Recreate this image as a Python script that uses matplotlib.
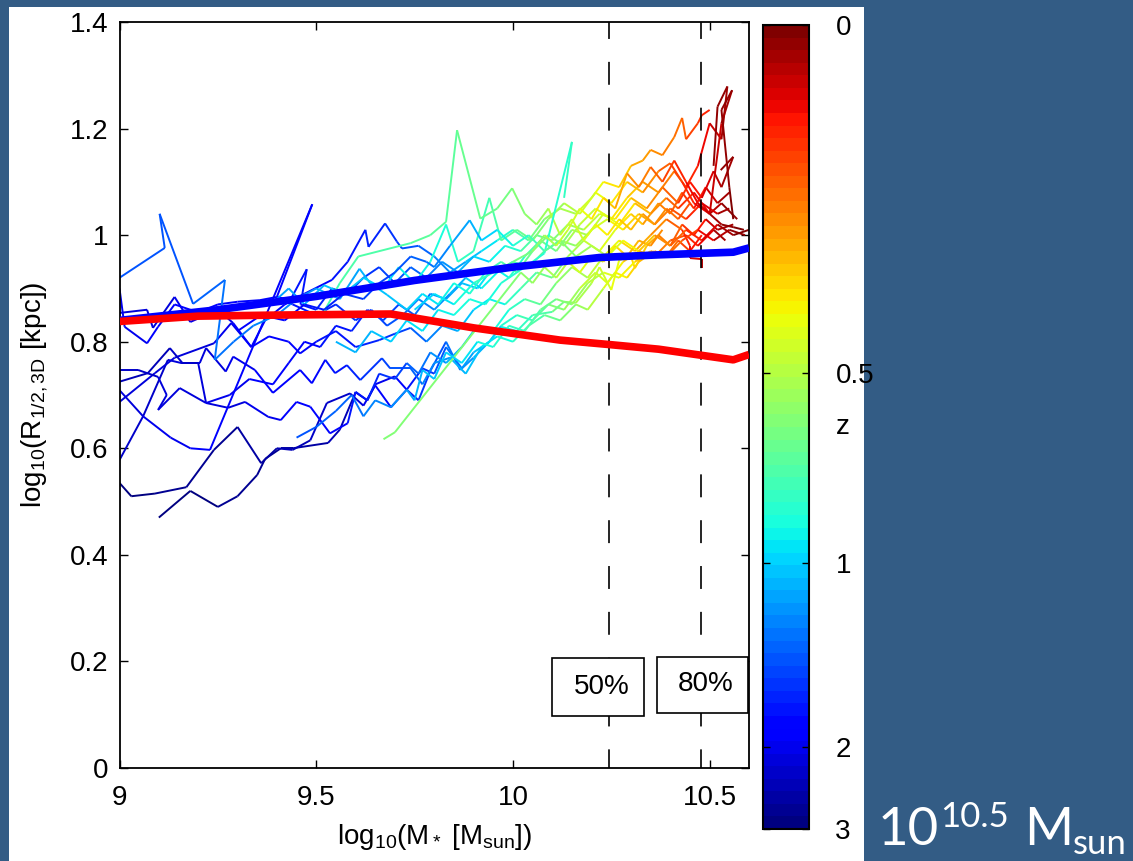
import numpy as np
import matplotlib
matplotlib.use('Agg')
import matplotlib.pyplot as plt
from matplotlib.collections import LineCollection
from matplotlib.colors import Normalize
from matplotlib.cm import ScalarMappable
from matplotlib.patches import Rectangle

# galaxy tracks: (log10 M*, log10 R_1/2, redshift)
track_a = [(9.10, 0.47, 3.0), (9.18, 0.52, 2.9), (9.25, 0.49, 2.8), (9.30, 0.51, 2.75), (9.35, 0.55, 2.7),
           (9.37, 0.58, 2.65), (9.41, 0.60, 2.6), (9.44, 0.60, 2.55), (9.53, 0.61, 2.45), (9.56, 0.635, 2.4),
           (9.60, 0.705, 2.3), (9.63, 0.69, 2.2), (9.65, 0.72, 2.1), (9.70, 0.735, 1.9), (9.73, 0.71, 1.75),
           (9.77, 0.75, 1.6), (9.80, 0.74, 1.5), (9.83, 0.79, 1.35), (9.87, 0.75, 1.2), (9.90, 0.78, 1.1),
           (9.94, 0.80, 0.98), (9.97, 0.83, 0.88), (10.01, 0.85, 0.8), (10.05, 0.84, 0.72), (10.09, 0.87, 0.64),
           (10.13, 0.86, 0.57), (10.17, 0.90, 0.5), (10.21, 0.93, 0.44), (10.24, 0.91, 0.4), (10.28, 0.95, 0.35),
           (10.32, 0.97, 0.3), (10.36, 0.96, 0.25), (10.40, 0.99, 0.2), (10.44, 1.00, 0.15), (10.47, 0.98, 0.11),
           (10.51, 1.01, 0.06), (10.54, 0.99, 0.02)]
track_b = [(9.00, 0.535, 2.9), (9.03, 0.51, 2.85), (9.09, 0.515, 2.8), (9.17, 0.527, 2.75), (9.24, 0.597, 2.65),
           (9.30, 0.64, 2.6), (9.36, 0.572, 2.5), (9.40, 0.60, 2.45), (9.44, 0.597, 2.4), (9.485, 0.615, 2.35),
           (9.527, 0.685, 2.25), (9.586, 0.703, 2.15), (9.62, 0.68, 2.1), (9.65, 0.718, 2.0), (9.69, 0.677, 1.85),
           (9.73, 0.71, 1.7), (9.76, 0.69, 1.6), (9.79, 0.745, 1.45), (9.83, 0.80, 1.35), (9.866, 0.747, 1.25),
           (9.90, 0.77, 1.15), (9.94, 0.80, 1.05), (9.97, 0.828, 0.95), (10.01, 0.82, 0.85), (10.05, 0.85, 0.76),
           (10.10, 0.856, 0.66), (10.13, 0.875, 0.6), (10.16, 0.873, 0.56), (10.20, 0.91, 0.5), (10.22, 0.94, 0.46),
           (10.25, 0.897, 0.42), (10.27, 0.953, 0.39), (10.30, 0.96, 0.35), (10.31, 0.938, 0.33), (10.34, 0.98, 0.29),
           (10.37, 1.00, 0.25), (10.40, 0.98, 0.21), (10.43, 1.02, 0.17), (10.46, 1.00, 0.12), (10.49, 1.03, 0.08),
           (10.52, 1.01, 0.05), (10.56, 1.02, 0.01)]
track_c = [(9.00, 0.578, 2.3), (9.06, 0.66, 2.25), (9.123, 0.766, 2.2), (9.157, 0.76, 2.15), (9.204, 0.76, 2.1),
           (9.22, 0.788, 2.08), (9.27, 0.744, 2.05), (9.289, 0.772, 2.0), (9.344, 0.747, 1.95), (9.39, 0.704, 1.9),
           (9.459, 0.747, 1.85), (9.489, 0.722, 1.8), (9.523, 0.766, 1.75), (9.548, 0.741, 1.7), (9.578, 0.756, 1.65),
           (9.612, 0.728, 1.6), (9.667, 0.769, 1.5), (9.688, 0.75, 1.45), (9.74, 0.75, 1.35), (9.77, 0.72, 1.3),
           (9.80, 0.76, 1.2), (9.84, 0.77, 1.12), (9.88, 0.74, 1.05), (9.92, 0.79, 0.97), (9.96, 0.81, 0.9),
           (10.00, 0.80, 0.83), (10.04, 0.83, 0.76), (10.08, 0.85, 0.7), (10.12, 0.84, 0.63), (10.16, 0.87, 0.57),
           (10.19, 0.86, 0.52), (10.23, 0.90, 0.46), (10.26, 0.93, 0.41), (10.29, 0.92, 0.37), (10.32, 0.95, 0.32),
           (10.36, 0.97, 0.27), (10.39, 0.96, 0.22), (10.42, 0.99, 0.18), (10.45, 0.97, 0.13), (10.48, 1.00, 0.09)]
track_d = [(9.00, 0.687, 2.2), (9.09, 0.741, 2.15), (9.14, 0.77, 2.1), (9.24, 0.797, 2.05), (9.284, 0.835, 2.0),
           (9.335, 0.79, 1.95), (9.38, 0.81, 1.9), (9.43, 0.80, 1.85), (9.459, 0.778, 1.8), (9.50, 0.80, 1.75),
           (9.55, 0.82, 1.7), (9.60, 0.79, 1.65), (9.66, 0.803, 1.55), (9.70, 0.815, 1.5), (9.74, 0.826, 1.4),
           (9.78, 0.80, 1.3), (9.82, 0.83, 1.2), (9.86, 0.82, 1.1), (9.90, 0.86, 1.0), (9.94, 0.88, 0.92),
           (9.98, 0.87, 0.85), (10.02, 0.90, 0.76), (10.06, 0.93, 0.68), (10.10, 0.92, 0.62), (10.14, 0.96, 0.56),
           (10.18, 0.99, 0.5), (10.22, 0.97, 0.45), (10.26, 1.01, 0.39), (10.30, 1.04, 0.33), (10.33, 1.02, 0.29),
           (10.37, 1.06, 0.24), (10.40, 1.04, 0.2), (10.43, 1.08, 0.16), (10.46, 1.05, 0.12), (10.49, 1.09, 0.08),
           (10.52, 1.06, 0.05), (10.55, 1.08, 0.02)]
track_e = [(9.00, 0.725, 2.4), (9.072, 0.741, 2.35), (9.128, 0.788, 2.3), (9.16, 0.76, 2.25), (9.20, 0.76, 2.2),
           (9.22, 0.685, 2.15), (9.276, 0.676, 2.1), (9.319, 0.687, 2.05), (9.378, 0.659, 2.0), (9.41, 0.653, 1.95),
           (9.45, 0.687, 1.9), (9.485, 0.678, 1.85), (9.535, 0.628, 1.8), (9.58, 0.647, 1.75), (9.60, 0.706, 1.7),
           (9.63, 0.69, 1.65), (9.66, 0.74, 1.6), (9.70, 0.73, 1.5), (9.73, 0.76, 1.4), (9.76, 0.74, 1.32),
           (9.79, 0.78, 1.25), (9.83, 0.76, 1.15), (9.87, 0.79, 1.05), (9.91, 0.83, 0.97), (9.95, 0.82, 0.9),
           (9.99, 0.86, 0.82), (10.03, 0.88, 0.74), (10.07, 0.87, 0.67), (10.11, 0.91, 0.6), (10.15, 0.94, 0.54),
           (10.19, 0.92, 0.49), (10.23, 0.96, 0.43), (10.27, 0.99, 0.37), (10.31, 0.97, 0.31), (10.35, 1.00, 0.26),
           (10.39, 1.03, 0.21), (10.43, 1.01, 0.16), (10.45, 0.98, 0.1), (10.45, 0.957, 0.08), (10.48, 0.955, 0.06),
           (10.48, 0.938, 0.04)]
track_f = [(9.00, 0.747, 2.3), (9.047, 0.747, 2.25), (9.098, 0.734, 2.2), (9.12, 0.70, 2.15), (9.098, 0.672, 2.12),
           (9.153, 0.713, 2.1), (9.22, 0.685, 2.05), (9.28, 0.70, 2.0), (9.33, 0.73, 1.95), (9.39, 0.72, 1.9),
           (9.43, 0.76, 1.85), (9.47, 0.80, 1.8), (9.51, 0.79, 1.75), (9.55, 0.83, 1.7), (9.59, 0.82, 1.65),
           (9.63, 0.86, 1.6), (9.67, 0.84, 1.5), (9.71, 0.87, 1.42), (9.75, 0.85, 1.35), (9.79, 0.89, 1.25),
           (9.83, 0.88, 1.15), (9.87, 0.91, 1.07), (9.91, 0.90, 1.0), (9.95, 0.94, 0.92), (9.99, 0.92, 0.85),
           (10.03, 0.96, 0.77), (10.07, 0.99, 0.7), (10.11, 0.97, 0.63), (10.15, 1.01, 0.56), (10.19, 1.00, 0.5),
           (10.23, 1.04, 0.44), (10.27, 1.02, 0.38), (10.31, 1.06, 0.32), (10.35, 1.04, 0.26), (10.39, 1.07, 0.21),
           (10.42, 1.05, 0.17), (10.46, 1.08, 0.12), (10.50, 1.04, 0.07), (10.53, 1.06, 0.04), (10.57, 1.03, 0.01)]
track_g = [(9.00, 0.854, 2.2), (9.07, 0.86, 2.15), (9.085, 0.826, 2.1), (9.14, 0.884, 2.05), (9.18, 0.837, 2.0),
           (9.25, 0.86, 1.97), (9.289, 0.835, 1.95), (9.335, 0.79, 1.92), (9.37, 0.84, 1.9), (9.42, 0.87, 1.85),
           (9.47, 0.89, 1.8), (9.54, 0.916, 1.75), (9.58, 0.95, 1.7), (9.625, 1.01, 1.65), (9.633, 0.978, 1.62),
           (9.675, 1.022, 1.58), (9.705, 0.988, 1.52), (9.718, 0.975, 1.48), (9.76, 0.98, 1.4), (9.80, 0.96, 1.3),
           (9.84, 0.93, 1.2), (9.88, 0.95, 1.1), (9.92, 0.97, 1.0), (9.96, 0.99, 0.9), (10.00, 1.01, 0.78),
           (10.04, 0.99, 0.68), (10.08, 1.03, 0.6), (10.12, 1.05, 0.54), (10.16, 1.04, 0.48), (10.20, 1.07, 0.42),
           (10.23, 1.10, 0.37), (10.27, 1.09, 0.33), (10.30, 1.13, 0.3), (10.33, 1.14, 0.27), (10.35, 1.16, 0.25),
           (10.38, 1.15, 0.23), (10.41, 1.184, 0.21), (10.43, 1.22, 0.19), (10.44, 1.18, 0.17), (10.47, 1.21, 0.15),
           (10.48, 1.225, 0.13), (10.50, 1.235, 0.12)]
track_h = [(9.00, 0.90, 2.0), (9.013, 0.828, 1.98), (9.07, 0.797, 1.95), (9.098, 0.828, 1.93), (9.14, 0.87, 1.9),
           (9.20, 0.855, 1.87), (9.25, 0.87, 1.85), (9.30, 0.875, 1.82), (9.357, 0.878, 1.8), (9.40, 0.884, 1.78),
           (9.434, 0.878, 1.75), (9.476, 0.936, 1.72), (9.46, 0.87, 1.7), (9.50, 0.86, 1.68), (9.54, 0.90, 1.65),
           (9.58, 0.89, 1.6), (9.62, 0.92, 1.55), (9.66, 0.94, 1.5), (9.70, 0.91, 1.45), (9.74, 0.94, 1.38),
           (9.78, 0.92, 1.3), (9.82, 0.95, 1.2), (9.86, 0.93, 1.12), (9.90, 0.96, 1.03), (9.94, 0.95, 0.95),
           (9.98, 0.98, 0.87), (10.02, 0.97, 0.78), (10.06, 1.00, 0.7), (10.10, 0.99, 0.63), (10.14, 1.02, 0.57),
           (10.18, 1.01, 0.51), (10.22, 1.04, 0.45), (10.26, 1.03, 0.39), (10.30, 1.07, 0.33), (10.34, 1.05, 0.28),
           (10.38, 1.09, 0.22), (10.42, 1.06, 0.17), (10.45, 1.10, 0.12), (10.48, 1.07, 0.09), (10.51, 1.12, 0.06),
           (10.53, 1.09, 0.04), (10.56, 1.147, 0.02), (10.528, 1.122, 0.01)]
track_i = [(9.00, 0.709, 2.1), (9.06, 0.66, 2.05), (9.13, 0.62, 2.0), (9.18, 0.60, 1.95), (9.23, 0.597, 1.92),
           (9.49, 1.058, 1.8), (9.40, 0.884, 1.75), (9.44, 0.87, 1.72), (9.50, 0.85, 1.68), (9.55, 0.87, 1.62),
           (9.60, 0.84, 1.56), (9.64, 0.86, 1.5), (9.68, 0.83, 1.42), (9.72, 0.85, 1.35), (9.76, 0.88, 1.27),
           (9.80, 0.86, 1.2), (9.84, 0.89, 1.12), (9.88, 0.92, 1.04), (9.92, 0.90, 0.96), (9.96, 0.93, 0.88),
           (10.00, 0.95, 0.8), (10.04, 0.94, 0.73), (10.08, 0.97, 0.66), (10.12, 0.99, 0.6), (10.16, 0.98, 0.54),
           (10.20, 1.01, 0.48), (10.24, 1.03, 0.42), (10.28, 1.01, 0.36), (10.32, 1.04, 0.31), (10.36, 1.02, 0.26),
           (10.40, 1.05, 0.2), (10.44, 1.03, 0.15), (10.48, 1.06, 0.1), (10.52, 1.04, 0.05), (10.55, 1.05, 0.02)]
track_j = [(9.00, 0.92, 1.45), (9.115, 0.976, 1.42), (9.102, 1.04, 1.4), (9.187, 0.871, 1.37), (9.268, 0.916, 1.33),
           (9.242, 0.766, 1.3), (9.29, 0.80, 1.28), (9.34, 0.83, 1.26), (9.40, 0.85, 1.23), (9.45, 0.88, 1.2),
           (9.50, 0.90, 1.17), (9.56, 0.88, 1.13), (9.61, 0.937, 1.1), (9.637, 0.91, 1.07), (9.68, 0.888, 1.03),
           (9.73, 0.86, 1.0), (9.77, 0.89, 0.96), (9.81, 0.87, 0.92), (9.85, 0.91, 0.88), (9.89, 0.89, 0.84),
           (9.93, 0.93, 0.79), (9.97, 0.95, 0.74), (10.01, 0.93, 0.69), (10.05, 0.97, 0.64), (10.09, 1.00, 0.59),
           (10.13, 0.98, 0.54), (10.17, 1.02, 0.49), (10.21, 1.05, 0.44), (10.25, 1.03, 0.39), (10.29, 1.07, 0.34),
           (10.33, 1.10, 0.29), (10.37, 1.08, 0.24), (10.41, 1.12, 0.19), (10.44, 1.09, 0.14), (10.47, 1.13, 0.1),
           (10.50, 1.21, 0.07), (10.53, 1.18, 0.05), (10.545, 1.279, 0.03), (10.52, 1.241, 0.02), (10.51, 1.13, 0.01)]
track_k = [(9.40, 0.88, 1.15), (9.43, 0.90, 1.13), (9.47, 0.87, 1.1), (9.52, 0.906, 1.07), (9.57, 0.89, 1.03),
           (9.62, 0.92, 1.0), (9.67, 0.90, 0.97), (9.71, 0.94, 0.93), (9.75, 0.91, 0.9), (9.79, 0.95, 0.87),
           (9.83, 1.02, 0.84), (9.86, 0.95, 0.81), (9.90, 0.97, 0.78), (9.94, 1.07, 0.75), (9.97, 0.99, 0.72),
           (10.01, 1.01, 0.68), (10.05, 0.99, 0.63), (10.09, 1.03, 0.58), (10.13, 1.06, 0.53), (10.17, 1.04, 0.48),
           (10.21, 1.08, 0.43), (10.25, 1.06, 0.38), (10.29, 1.10, 0.32), (10.33, 1.08, 0.27), (10.37, 1.12, 0.21),
           (10.40, 1.135, 0.17), (10.43, 1.10, 0.13), (10.46, 1.06, 0.1), (10.50, 1.04, 0.07), (10.53, 1.21, 0.05),
           (10.557, 1.272, 0.03), (10.53, 1.235, 0.02), (10.55, 1.09, 0.01), (10.56, 1.03, 0.0)]
track_l = [(9.518, 0.854, 0.75), (9.56, 0.91, 0.74), (9.607, 0.96, 0.73), (9.74, 0.985, 0.71), (9.79, 1.00, 0.7),
           (9.83, 1.025, 0.69), (9.858, 1.197, 0.68), (9.917, 1.031, 0.67), (9.96, 1.05, 0.65), (9.998, 1.088, 0.62),
           (10.03, 1.04, 0.58), (10.06, 1.02, 0.55), (10.09, 1.05, 0.52), (10.12, 1.00, 0.49), (10.15, 1.03, 0.46),
           (10.18, 0.99, 0.43), (10.21, 1.02, 0.4), (10.24, 1.00, 0.37), (10.27, 1.03, 0.34), (10.30, 1.01, 0.31),
           (10.33, 1.04, 0.28), (10.36, 1.02, 0.25), (10.39, 1.05, 0.22), (10.42, 1.03, 0.19), (10.45, 1.06, 0.16)]
track_m = [(9.671, 0.617, 0.62), (9.70, 0.63, 0.61), (10.02, 0.93, 0.58), (10.05, 0.91, 0.56), (10.08, 0.94, 0.53),
           (10.11, 0.92, 0.5), (10.14, 0.95, 0.47), (10.17, 0.93, 0.44), (10.20, 0.96, 0.41), (10.23, 0.95, 0.38),
           (10.26, 0.98, 0.35), (10.29, 0.96, 0.32), (10.32, 0.99, 0.29), (10.35, 0.98, 0.26), (10.38, 1.01, 0.23)]
track_n = [(9.55, 0.80, 1.1), (9.60, 0.78, 1.07), (9.64, 0.82, 1.04), (9.69, 0.80, 1.0), (9.73, 0.84, 0.97),
           (9.77, 0.82, 0.94), (9.81, 0.86, 0.91), (9.85, 0.85, 0.89), (9.89, 0.88, 0.87), (9.93, 0.87, 0.86),
           (9.97, 0.91, 0.85), (10.01, 0.93, 0.84), (10.05, 0.95, 0.83), (10.08, 0.966, 0.82), (10.15, 1.175, 0.81),
           (10.13, 1.07, 0.8)]
track_o = [(9.45, 0.62, 1.45), (9.50, 0.64, 1.4), (9.55, 0.67, 1.35), (9.59, 0.70, 1.3), (9.62, 0.66, 1.27),
           (9.65, 0.69, 1.23), (9.69, 0.677, 1.18), (9.73, 0.71, 1.13), (9.75, 0.69, 1.1), (9.77, 0.747, 1.07),
           (9.80, 0.73, 1.03), (9.83, 0.78, 0.99), (9.87, 0.76, 0.95), (9.91, 0.80, 0.9), (9.95, 0.79, 0.86),
           (9.99, 0.83, 0.81), (10.03, 0.82, 0.76), (10.07, 0.86, 0.7), (10.11, 0.88, 0.64), (10.15, 0.87, 0.58),
           (10.19, 0.91, 0.52), (10.23, 0.93, 0.46), (10.27, 0.92, 0.4), (10.31, 0.95, 0.34), (10.35, 0.97, 0.28),
           (10.39, 0.96, 0.23), (10.43, 0.99, 0.18), (10.47, 1.01, 0.12), (10.51, 0.99, 0.07), (10.55, 1.01, 0.03),
           (10.59, 1.00, 0.0)]
track_p = [(9.30, 0.82, 1.9), (9.36, 0.85, 1.85), (9.42, 0.84, 1.8), (9.47, 0.87, 1.75), (9.52, 0.86, 1.7),
           (9.57, 0.89, 1.62), (9.62, 0.88, 1.55), (9.66, 0.91, 1.48), (9.70, 0.93, 1.42), (9.74, 0.96, 1.36),
           (9.78, 0.95, 1.3), (9.80, 0.94, 1.25), (9.84, 0.98, 1.18), (9.89, 1.028, 1.1), (9.92, 0.99, 1.03),
           (9.96, 1.01, 0.96), (10.00, 0.98, 0.88), (10.04, 1.00, 0.8), (10.08, 0.97, 0.72), (10.12, 0.99, 0.65),
           (10.16, 0.96, 0.58), (10.20, 0.98, 0.52), (10.24, 0.96, 0.46), (10.28, 0.99, 0.4), (10.32, 0.97, 0.34),
           (10.36, 1.00, 0.28), (10.40, 0.98, 0.22), (10.44, 1.01, 0.16), (10.48, 0.99, 0.1), (10.52, 1.02, 0.05),
           (10.56, 1.00, 0.02), (10.60, 1.01, 0.0)]
track_q = [(9.75, 0.86, 1.0), (9.80, 0.89, 0.95), (9.85, 0.87, 0.9), (9.90, 0.91, 0.82), (9.95, 0.93, 0.74),
           (10.00, 0.95, 0.66), (10.05, 0.97, 0.6), (10.08, 1.00, 0.55), (10.11, 0.98, 0.5), (10.14, 1.01, 0.46),
           (10.17, 1.05, 0.42), (10.20, 1.03, 0.38), (10.23, 1.07, 0.34), (10.26, 1.05, 0.3), (10.29, 1.116, 0.26),
           (10.32, 1.09, 0.23), (10.35, 1.128, 0.2), (10.38, 1.10, 0.17), (10.41, 1.14, 0.14), (10.44, 1.10, 0.11),
           (10.47, 1.06, 0.08), (10.50, 1.04, 0.05), (10.53, 1.02, 0.03), (10.56, 1.015, 0.01), (10.587, 1.01, 0.0)]

tracks = [track_a, track_b, track_c, track_d, track_e, track_f, track_g, track_h, track_i,
          track_j, track_k, track_l, track_m, track_n, track_o, track_p, track_q]

# median relations
blue_mass = [9.0, 9.25, 9.5, 9.75, 10.0, 10.22, 10.37, 10.56, 10.6]
blue_size = [0.84, 0.86, 0.885, 0.915, 0.94, 0.958, 0.963, 0.968, 0.976]
red_mass = [9.0, 9.2, 9.4, 9.69, 9.9, 10.12, 10.24, 10.37, 10.56, 10.6]
red_size = [0.838, 0.848, 0.85, 0.852, 0.826, 0.803, 0.795, 0.786, 0.766, 0.776]

frac_mass = [10.245, 10.478]
frac_labels = ['50%', '80%']

cbar_z = [0, 0.5, 1, 2, 3]
z_max = 3.0


def lookback_gyr(z, om=0.25, h0=73.0):
    # flat LCDM lookback time
    zz = np.linspace(0.0, z, 2001)
    ez = np.sqrt(om * (1 + zz) ** 3 + 1 - om)
    return 977.8 / h0 * np.trapezoid(1.0 / ((1 + zz) * ez), zz)


t_max = lookback_gyr(z_max)


def colour_value(z):
    # time elapsed since z_max, so z=0 sits at the top of the bar
    return t_max - lookback_gyr(z)


BG = '#335c85'
plt.rcParams['font.family'] = ['Liberation Sans', 'DejaVu Sans']
plt.rcParams['mathtext.fontset'] = 'custom'
plt.rcParams['mathtext.rm'] = 'Liberation Sans'
plt.rcParams['mathtext.it'] = 'Liberation Sans'
plt.rcParams['lines.scale_dashes'] = False

W, H = 1133, 861
fig = plt.figure(figsize=(W / 100, H / 100), dpi=100, facecolor=BG)
fig.add_artist(Rectangle((9 / W, 0), 855 / W, 854 / H, transform=fig.transFigure,
                         facecolor='white', edgecolor='none', zorder=0))

ax = fig.add_axes([119.5 / W, (H - 768) / H, 629.5 / W, 746 / H])
cax = fig.add_axes([763 / W, (H - 829) / H, 46 / W, 804 / H])

cmap = plt.get_cmap('jet', 64)
norm = Normalize(vmin=0.0, vmax=t_max)

for trk in tracks:
    arr = np.array(trk)
    pts = arr[:, :2]
    cval = np.array([colour_value(z) for z in arr[:, 2]])
    segs = np.stack([pts[:-1], pts[1:]], axis=1)
    lc = LineCollection(segs, cmap=cmap, norm=norm, linewidths=1.4, zorder=2)
    lc.set_array(0.5 * (cval[:-1] + cval[1:]))
    ax.add_collection(lc)

ax.plot(blue_mass, blue_size, color=(0, 0, 1), lw=5.5, solid_capstyle='butt', zorder=4)
ax.plot(red_mass, red_size, color=(1, 0, 0), lw=5.5, solid_capstyle='butt', zorder=5)

for xm in frac_mass:
    ax.plot([xm, xm], [1.4, 0], color='black', lw=1.2, linestyle=(4.3, (16.5, 16.5)), zorder=3)

# boxed fraction labels
ax.add_patch(Rectangle((10.1005, 0.0976), 0.2315, 0.1088, facecolor='white', edgecolor='black', lw=1.2, zorder=6))
ax.add_patch(Rectangle((10.365, 0.1032), 0.232, 0.1051, facecolor='white', edgecolor='black', lw=1.2, zorder=6))
ax.text(10.225, 0.152, frac_labels[0], fontsize=20, ha='center', va='center', zorder=7)
ax.text(10.491, 0.158, frac_labels[1], fontsize=20, ha='center', va='center', zorder=7)

ax.set_xlim(9, 10.6)
ax.set_ylim(0, 1.4)
ax.set_xticks([9, 9.5, 10, 10.5])
ax.set_xticklabels(['9', '9.5', '10', '10.5'])
ax.set_yticks([0, 0.2, 0.4, 0.6, 0.8, 1.0, 1.2, 1.4])
ax.set_yticklabels(['0', '0.2', '0.4', '0.6', '0.8', '1', '1.2', '1.4'])
ax.tick_params(direction='in', length=5.5, width=1.0, top=True, right=True, labelsize=20)
ax.tick_params(axis='x', pad=12)
ax.tick_params(axis='y', pad=8)
for sp in ax.spines.values():
    sp.set_linewidth(1.3)
ax.set_xlabel(r'log$_{10}$(M$_*$ [M$_{sun}$])', fontsize=20, labelpad=8)
ax.set_ylabel(r'log$_{10}$(R$_{1/2,3D}$ [kpc])', fontsize=20, labelpad=14)

cb = fig.colorbar(ScalarMappable(norm=norm, cmap=cmap), cax=cax)
cb.set_ticks([colour_value(z) for z in cbar_z])
cb.set_ticklabels([f'{z:g}' for z in cbar_z])
cb.ax.tick_params(direction='in', length=5, width=1.0, left=True, right=True, labelsize=20, pad=19)
cb.outline.set_linewidth(1.5)
cax.text(1.74, 0.5, 'z', transform=cax.transAxes, fontsize=20, ha='center', va='center')

# slide caption in the side panel
fig.text(878 / W, (H - 845) / H, '10', color='white', fontsize=38, family='Lato', va='baseline')
fig.text(940 / W, (H - 827) / H, '10.5', color='white', fontsize=25, family='Lato', va='baseline')
fig.text(1024 / W, (H - 845) / H, 'M', color='white', fontsize=38, family='Lato', va='baseline')
fig.text(1073 / W, (H - 854) / H, 'sun', color='white', fontsize=25, family='Lato', va='baseline')

fig.savefig('out.png', dpi=100, facecolor=BG)
